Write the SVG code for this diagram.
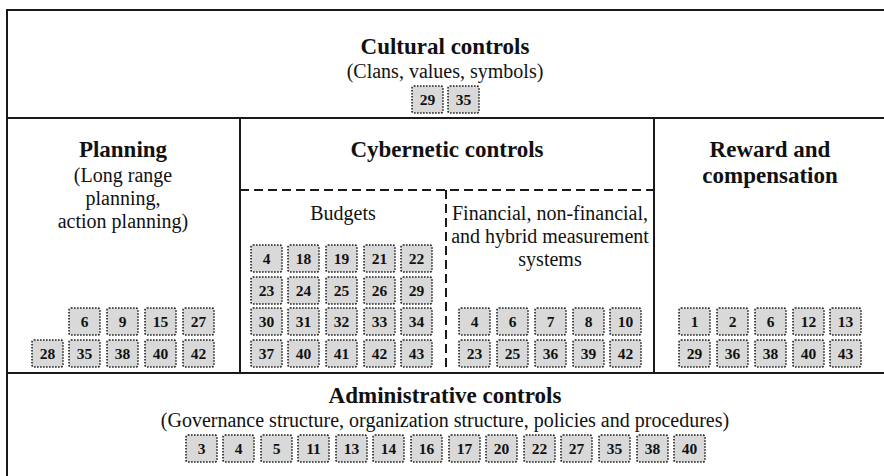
<svg xmlns="http://www.w3.org/2000/svg" width="884" height="476" viewBox="0 0 884 476">
<style>
  .frame{fill:none;stroke:#1a1a1a;stroke-width:2}
  .dash{fill:none;stroke:#1a1a1a;stroke-width:2;stroke-dasharray:9 5}
  .ref rect{fill:#d9d9d9;stroke:#222;stroke-width:1.6;stroke-dasharray:1.6 1.4}
  .ref text{font-family:"Liberation Serif",serif;font-weight:bold;font-size:15.5px;text-anchor:middle;fill:#111}
  .title{font-family:"Liberation Serif",serif;font-weight:bold;font-size:23px;text-anchor:middle;fill:#111}
  .sub{font-family:"Liberation Serif",serif;font-size:20px;text-anchor:middle;fill:#111}
</style>
<rect width="884" height="476" fill="#fff"/>

<!-- section borders -->
<g id="connectors">
  <rect class="frame" x="7" y="10" width="882" height="472"/>
  <line class="frame" x1="7" y1="118" x2="884" y2="118"/>
  <line class="frame" x1="7" y1="373" x2="884" y2="373"/>
  <line class="frame" x1="240" y1="118" x2="240" y2="373"/>
  <line class="frame" x1="654" y1="118" x2="654" y2="373"/>
  <line class="dash" x1="240" y1="190" x2="654" y2="190"/>
  <line class="dash" x1="446" y1="190" x2="446" y2="373"/>
</g>

<!-- Cultural controls -->
<g id="cultural">
  <text class="title" x="445" y="54">Cultural controls</text>
  <text class="sub" x="445" y="78">(Clans, values, symbols)</text>
  <g class="ref"><rect x="412" y="86" width="31" height="27" rx="2"/><text x="427.5" y="105">29</text></g>
  <g class="ref"><rect x="448" y="86" width="31" height="27" rx="2"/><text x="463.5" y="105">35</text></g>
</g>

<!-- Planning -->
<g id="planning">
  <text class="title" x="123" y="157">Planning</text>
  <text class="sub" x="123" y="182">(Long range</text>
  <text class="sub" x="123" y="205">planning,</text>
  <text class="sub" x="123" y="228">action planning)</text>
  <g class="ref"><rect x="69" y="308" width="31" height="27" rx="2"/><text x="84.5" y="327">6</text></g>
  <g class="ref"><rect x="107" y="308" width="31" height="27" rx="2"/><text x="122.5" y="327">9</text></g>
  <g class="ref"><rect x="145" y="308" width="31" height="27" rx="2"/><text x="160.5" y="327">15</text></g>
  <g class="ref"><rect x="183" y="308" width="31" height="27" rx="2"/><text x="198.5" y="327">27</text></g>
  <g class="ref"><rect x="32" y="340" width="31" height="27" rx="2"/><text x="47.5" y="359">28</text></g>
  <g class="ref"><rect x="69" y="340" width="31" height="27" rx="2"/><text x="84.5" y="359">35</text></g>
  <g class="ref"><rect x="107" y="340" width="31" height="27" rx="2"/><text x="122.5" y="359">38</text></g>
  <g class="ref"><rect x="145" y="340" width="31" height="27" rx="2"/><text x="160.5" y="359">40</text></g>
  <g class="ref"><rect x="183" y="340" width="31" height="27" rx="2"/><text x="198.5" y="359">42</text></g>
</g>

<!-- Cybernetic controls -->
<g id="cybernetic">
  <text class="title" x="447" y="157">Cybernetic controls</text>
</g>

<!-- Budgets -->
<g id="budgets">
  <text class="sub" x="343" y="220">Budgets</text>
  <g class="ref"><rect x="251" y="245" width="31" height="27" rx="2"/><text x="266.5" y="264">4</text></g>
  <g class="ref"><rect x="288" y="245" width="31" height="27" rx="2"/><text x="303.5" y="264">18</text></g>
  <g class="ref"><rect x="326" y="245" width="31" height="27" rx="2"/><text x="341.5" y="264">19</text></g>
  <g class="ref"><rect x="364" y="245" width="31" height="27" rx="2"/><text x="379.5" y="264">21</text></g>
  <g class="ref"><rect x="401" y="245" width="31" height="27" rx="2"/><text x="416.5" y="264">22</text></g>
  <g class="ref"><rect x="251" y="277" width="31" height="27" rx="2"/><text x="266.5" y="296">23</text></g>
  <g class="ref"><rect x="288" y="277" width="31" height="27" rx="2"/><text x="303.5" y="296">24</text></g>
  <g class="ref"><rect x="326" y="277" width="31" height="27" rx="2"/><text x="341.5" y="296">25</text></g>
  <g class="ref"><rect x="364" y="277" width="31" height="27" rx="2"/><text x="379.5" y="296">26</text></g>
  <g class="ref"><rect x="401" y="277" width="31" height="27" rx="2"/><text x="416.5" y="296">29</text></g>
  <g class="ref"><rect x="251" y="308" width="31" height="27" rx="2"/><text x="266.5" y="327">30</text></g>
  <g class="ref"><rect x="288" y="308" width="31" height="27" rx="2"/><text x="303.5" y="327">31</text></g>
  <g class="ref"><rect x="326" y="308" width="31" height="27" rx="2"/><text x="341.5" y="327">32</text></g>
  <g class="ref"><rect x="364" y="308" width="31" height="27" rx="2"/><text x="379.5" y="327">33</text></g>
  <g class="ref"><rect x="401" y="308" width="31" height="27" rx="2"/><text x="416.5" y="327">34</text></g>
  <g class="ref"><rect x="251" y="340" width="31" height="27" rx="2"/><text x="266.5" y="359">37</text></g>
  <g class="ref"><rect x="288" y="340" width="31" height="27" rx="2"/><text x="303.5" y="359">40</text></g>
  <g class="ref"><rect x="326" y="340" width="31" height="27" rx="2"/><text x="341.5" y="359">41</text></g>
  <g class="ref"><rect x="364" y="340" width="31" height="27" rx="2"/><text x="379.5" y="359">42</text></g>
  <g class="ref"><rect x="401" y="340" width="31" height="27" rx="2"/><text x="416.5" y="359">43</text></g>
</g>

<!-- Measurement systems -->
<g id="measurement">
  <text class="sub" x="550" y="220">Financial, non-financial,</text>
  <text class="sub" x="550" y="243">and hybrid measurement</text>
  <text class="sub" x="550" y="266">systems</text>
  <g class="ref"><rect x="459" y="308" width="31" height="27" rx="2"/><text x="474.5" y="327">4</text></g>
  <g class="ref"><rect x="497" y="308" width="31" height="27" rx="2"/><text x="512.5" y="327">6</text></g>
  <g class="ref"><rect x="535" y="308" width="31" height="27" rx="2"/><text x="550.5" y="327">7</text></g>
  <g class="ref"><rect x="573" y="308" width="31" height="27" rx="2"/><text x="588.5" y="327">8</text></g>
  <g class="ref"><rect x="610" y="308" width="31" height="27" rx="2"/><text x="625.5" y="327">10</text></g>
  <g class="ref"><rect x="459" y="340" width="31" height="27" rx="2"/><text x="474.5" y="359">23</text></g>
  <g class="ref"><rect x="497" y="340" width="31" height="27" rx="2"/><text x="512.5" y="359">25</text></g>
  <g class="ref"><rect x="535" y="340" width="31" height="27" rx="2"/><text x="550.5" y="359">36</text></g>
  <g class="ref"><rect x="573" y="340" width="31" height="27" rx="2"/><text x="588.5" y="359">39</text></g>
  <g class="ref"><rect x="610" y="340" width="31" height="27" rx="2"/><text x="625.5" y="359">42</text></g>
</g>

<!-- Reward and compensation -->
<g id="reward">
  <text class="title" x="770" y="157">Reward and</text>
  <text class="title" x="770" y="183">compensation</text>
  <g class="ref"><rect x="679" y="308" width="31" height="27" rx="2"/><text x="694.5" y="327">1</text></g>
  <g class="ref"><rect x="717" y="308" width="31" height="27" rx="2"/><text x="732.5" y="327">2</text></g>
  <g class="ref"><rect x="755" y="308" width="31" height="27" rx="2"/><text x="770.5" y="327">6</text></g>
  <g class="ref"><rect x="793" y="308" width="31" height="27" rx="2"/><text x="808.5" y="327">12</text></g>
  <g class="ref"><rect x="830" y="308" width="31" height="27" rx="2"/><text x="845.5" y="327">13</text></g>
  <g class="ref"><rect x="679" y="340" width="31" height="27" rx="2"/><text x="694.5" y="359">29</text></g>
  <g class="ref"><rect x="717" y="340" width="31" height="27" rx="2"/><text x="732.5" y="359">36</text></g>
  <g class="ref"><rect x="755" y="340" width="31" height="27" rx="2"/><text x="770.5" y="359">38</text></g>
  <g class="ref"><rect x="793" y="340" width="31" height="27" rx="2"/><text x="808.5" y="359">40</text></g>
  <g class="ref"><rect x="830" y="340" width="31" height="27" rx="2"/><text x="845.5" y="359">43</text></g>
</g>

<!-- Administrative controls -->
<g id="administrative">
  <text class="title" x="445" y="403">Administrative controls</text>
  <text class="sub" x="445" y="427">(Governance structure, organization structure, policies and procedures)</text>
  <g class="ref"><rect x="186" y="435" width="31" height="27" rx="2"/><text x="201.5" y="454">3</text></g>
  <g class="ref"><rect x="223" y="435" width="31" height="27" rx="2"/><text x="238.5" y="454">4</text></g>
  <g class="ref"><rect x="261" y="435" width="31" height="27" rx="2"/><text x="276.5" y="454">5</text></g>
  <g class="ref"><rect x="298" y="435" width="31" height="27" rx="2"/><text x="313.5" y="454">11</text></g>
  <g class="ref"><rect x="336" y="435" width="31" height="27" rx="2"/><text x="351.5" y="454">13</text></g>
  <g class="ref"><rect x="373" y="435" width="31" height="27" rx="2"/><text x="388.5" y="454">14</text></g>
  <g class="ref"><rect x="411" y="435" width="31" height="27" rx="2"/><text x="426.5" y="454">16</text></g>
  <g class="ref"><rect x="449" y="435" width="31" height="27" rx="2"/><text x="464.5" y="454">17</text></g>
  <g class="ref"><rect x="486" y="435" width="31" height="27" rx="2"/><text x="501.5" y="454">20</text></g>
  <g class="ref"><rect x="524" y="435" width="31" height="27" rx="2"/><text x="539.5" y="454">22</text></g>
  <g class="ref"><rect x="561" y="435" width="31" height="27" rx="2"/><text x="576.5" y="454">27</text></g>
  <g class="ref"><rect x="599" y="435" width="31" height="27" rx="2"/><text x="614.5" y="454">35</text></g>
  <g class="ref"><rect x="637" y="435" width="31" height="27" rx="2"/><text x="652.5" y="454">38</text></g>
  <g class="ref"><rect x="674" y="435" width="31" height="27" rx="2"/><text x="689.5" y="454">40</text></g>
</g>
</svg>
